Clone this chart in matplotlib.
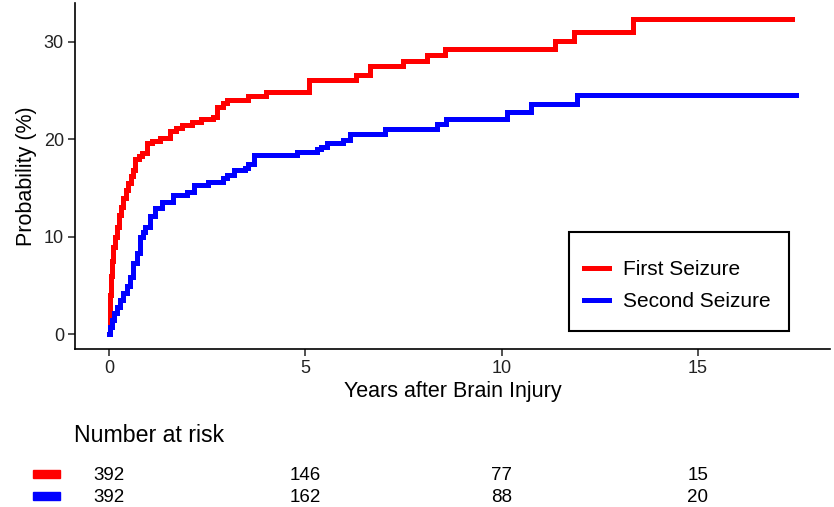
import matplotlib
matplotlib.use("Agg")
import matplotlib.pyplot as plt
from matplotlib.patches import Rectangle

plt.rcParams['font.family'] = ['Liberation Sans', 'DejaVu Sans']

# ---- data ----
red_t = [0, 0.02, 0.05, 0.08, 0.11, 0.15, 0.2, 0.25, 0.3, 0.36, 0.42, 0.48, 0.55, 0.6, 0.66,
         0.75, 0.85, 0.96, 1.1, 1.3, 1.55, 1.7, 1.85, 2.1, 2.35, 2.65, 2.75, 2.9, 3.0, 3.55,
         4.0, 5.1, 6.3, 6.65, 7.5, 8.1, 8.55, 11.35, 11.85, 13.35, 17.4]
red_p = [0, 4.0, 6.0, 7.5, 9.0, 10.0, 11.0, 12.2, 13.1, 14.0, 14.8, 15.5, 16.2, 16.8, 18.0,
         18.3, 18.6, 19.6, 19.8, 20.1, 20.8, 21.1, 21.4, 21.8, 22.1, 22.3, 23.3, 23.7, 24.0, 24.4,
         24.8, 26.1, 26.6, 27.5, 28.0, 28.6, 29.2, 30.1, 31.0, 32.3, 32.3]

blue_t = [0, 0.03, 0.07, 0.13, 0.2, 0.28, 0.36, 0.45, 0.53, 0.62, 0.7, 0.79, 0.86, 0.92, 1.04,
          1.17, 1.34, 1.64, 1.98, 2.15, 2.53, 2.91, 3.0, 3.17, 3.46, 3.55, 3.68, 4.8, 5.3, 5.4,
          5.55, 5.97, 6.15, 7.03, 8.35, 8.58, 10.13, 10.74, 11.91, 17.5]
blue_p = [0, 0.8, 1.5, 2.2, 2.8, 3.5, 4.2, 5.0, 5.9, 7.3, 8.3, 10.0, 10.5, 11.0, 12.1,
          12.9, 13.6, 14.3, 14.6, 15.3, 15.6, 16.0, 16.3, 16.8, 17.0, 17.5, 18.4, 18.7, 19.0, 19.2,
          19.6, 19.9, 20.5, 21.0, 21.6, 22.1, 22.8, 23.6, 24.5, 24.5]

series_names = ["First Seizure", "Second Seizure"]
series_colors = ["#ff0000", "#0000ff"]
risk_times = [0, 5, 10, 15]
risk_first = [392, 146, 77, 15]
risk_second = [392, 162, 88, 20]

W, H = 834, 507
fig = plt.figure(figsize=(W / 100, H / 100), dpi=100)

def fx(px):
    return px / W

def fy(py):
    return 1 - py / H

ax = fig.add_axes([fx(75), fy(349), fx(830) - fx(75), fy(3) - fy(349)])
ax.step(red_t, red_p, where='post', color=series_colors[0], lw=3.6, label=series_names[0],
        solid_joinstyle='miter')
ax.step(blue_t, blue_p, where='post', color=series_colors[1], lw=3.6, label=series_names[1],
        solid_joinstyle='miter')

ax.set_xlim(-0.87, 18.37)
ax.set_ylim(-1.5, 33.95)
ax.set_xticks([0, 5, 10, 15])
ax.set_yticks([0, 10, 20, 30])
for s in ['top', 'right']:
    ax.spines[s].set_visible(False)
for s in ['left', 'bottom']:
    ax.spines[s].set_linewidth(1.2)
ax.tick_params(axis='both', labelsize=13, length=5, width=1.1, colors='#222222',
               labelcolor='#222222', pad=3)
ax.set_xlabel("Years after Brain Injury", fontsize=15.5, labelpad=3)
ax.set_ylabel("Probability (%)", fontsize=15.5, labelpad=5)

# legend (entries) + separate frame box
leg = ax.legend(loc='center left', bbox_to_anchor=(0.674, 0.1835),
                fontsize=15, frameon=False, borderpad=0, labelspacing=0.62,
                handlelength=1.2, handletextpad=0.7, borderaxespad=0)
for line in leg.get_lines():
    line.set_linewidth(3.6)
ax.add_patch(Rectangle((0.654, 0.052), 0.292, 0.286, transform=ax.transAxes,
                       fill=False, edgecolor='black', lw=1.5, zorder=5))

# ---- number at risk table ----
tax = fig.add_axes([fx(75), 0, fx(830) - fx(75), fy(415)])
tax.set_xlim(-0.87, 18.37)
tax.set_ylim(H, 415)
tax.axis('off')
fig.text(fx(74), fy(436), "Number at risk", fontsize=16.7, va='center', ha='left')
rows = [(475, risk_first, series_colors[0]), (497, risk_second, series_colors[1])]
for ypx, vals, col in rows:
    for t, v in zip(risk_times, vals):
        tax.text(t, ypx, str(v), fontsize=13.5, ha='center', va='center', color='black')
    fig.patches.append(Rectangle((fx(33), fy(ypx + 3)), fx(60) - fx(33), 8 / H,
                                 transform=fig.transFigure, color=col))

fig.savefig("out.png", dpi=100)
